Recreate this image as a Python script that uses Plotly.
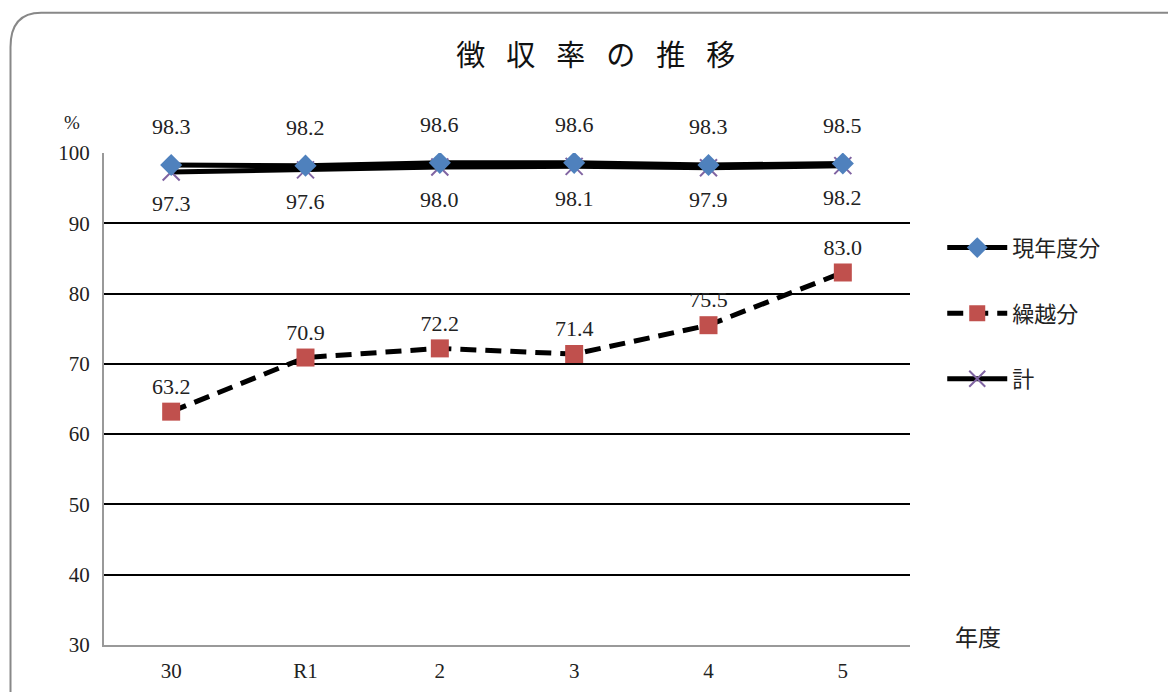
import plotly.graph_objects as go

years = ["30", "R1", "2", "3", "4", "5"]
current = [98.3, 98.2, 98.6, 98.6, 98.3, 98.5]
carried = [63.2, 70.9, 72.2, 71.4, 75.5, 83.0]
total = [97.3, 97.6, 98.0, 98.1, 97.9, 98.2]
yticks = [30, 40, 50, 60, 70, 80, 90, 100]

serif = "Liberation Serif, serif"
jp = "Noto Sans CJK JP, sans-serif"

fig = go.Figure()
fig.add_trace(go.Scatter(
    x=years, y=carried, name="繰越分", mode="lines+markers+text",
    legendgroup="b", legendrank=2,
    line=dict(color="black", width=5, dash="16px,9px"),
    marker=dict(symbol="square", size=18, color="#C0504D"),
    text=[f"{v:.1f}" for v in carried], textposition="top center",
    textfont=dict(family=serif, size=22, color="#222"),
))
fig.add_trace(go.Scatter(
    x=years, y=total, name="計", mode="lines+markers",
    legendgroup="c", legendrank=3,
    line=dict(color="black", width=5),
    marker=dict(symbol="x-thin", size=17, line=dict(color="#8064A2", width=2)),
))
fig.add_trace(go.Scatter(
    x=years, y=current, name="現年度分", mode="lines+markers",
    legendgroup="a", legendrank=1,
    line=dict(color="black", width=5),
    marker=dict(symbol="diamond", size=17, color="#4F81BD"),
))

# data labels for current (above plot) and total (below)
for i, v in enumerate(current):
    fig.add_annotation(x=i, y=v, text=f"{v:.1f}", showarrow=False, yshift=38,
                       font=dict(family=serif, size=22, color="#222"))
for i, v in enumerate(total):
    fig.add_annotation(x=i, y=v, text=f"{v:.1f}", showarrow=False, yshift=-32,
                       font=dict(family=serif, size=22, color="#222"))

fig.add_annotation(xref="paper", yref="paper", x=-0.04, y=1.061, xanchor="center",
                   yanchor="middle", text="%", showarrow=False,
                   font=dict(family=serif, size=19, color="#222"))
fig.add_annotation(xref="paper", yref="paper", x=1.084, y=0.018, xanchor="center",
                   yanchor="middle", text="年度", showarrow=False,
                   font=dict(family=jp, size=23, color="#222"))

fig.update_layout(
    shapes=[dict(type="path", xref="paper", yref="paper",
                 path="M -0.116,-0.25 L -0.116,1.215 Q -0.116,1.285 -0.078,1.285 L 1.40,1.285 L 1.40,-0.25",
                 line=dict(color="#888", width=2), layer="below")]
)

title = "\u2002 ".join(list("徴収率の推移"))

fig.update_layout(
    width=1168, height=692,
    margin=dict(l=104, r=258, t=153, b=47),
    paper_bgcolor="white", plot_bgcolor="white",
    title=dict(text=title, x=0.51, xanchor="center", y=0.92, yanchor="middle",
               font=dict(family=jp, size=29, color="#111")),
    xaxis=dict(type="category", range=[-0.5, 5.5], showgrid=False, showline=True,
               linecolor="#999", linewidth=2, ticks="", ticklabelstandoff=6,
               automargin=False,
               tickfont=dict(family=serif, size=21, color="#222")),
    yaxis=dict(range=[30, 100], tickvals=yticks, showgrid=True, gridcolor="black",
               gridwidth=1.5, showline=True, linecolor="#999", linewidth=2, zeroline=False,
               ticks="", ticklabelstandoff=8, automargin=False,
               tickfont=dict(family=serif, size=21, color="#222")),
    legend=dict(x=1.04, y=0.85, xanchor="left", yanchor="top",
                font=dict(family=jp, size=22, color="#222"), tracegroupgap=34,
                itemwidth=60),
    showlegend=True,
)
fig.write_html("out.html")
